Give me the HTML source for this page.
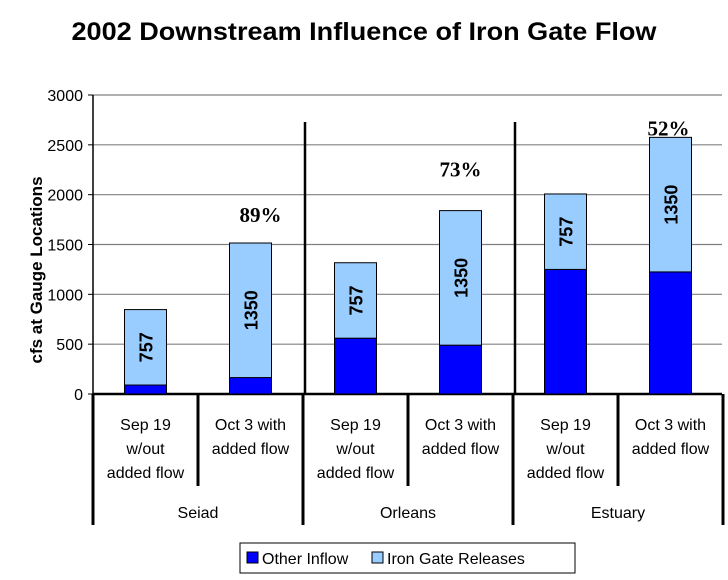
<!DOCTYPE html>
<html><head><meta charset="utf-8"><style>
body{margin:0;background:#fff;}
svg text{font-family:"Liberation Sans",Arial,sans-serif;}
svg text.serif{font-family:"Liberation Serif","Times New Roman",serif;}
</style></head><body>
<svg width="728" height="575" viewBox="0 0 728 575">
<text x="364" y="40" text-anchor="middle" font-size="25" font-weight="bold" textLength="585" lengthAdjust="spacingAndGlyphs">2002 Downstream Influence of Iron Gate Flow</text>
<text transform="translate(42,270) rotate(-90)" text-anchor="middle" font-size="17" font-weight="bold">cfs at Gauge Locations</text>
<g id="grid"></g><g id="bars"></g><g id="xaxis"></g>
<g>
<rect x="240" y="543" width="335" height="30" fill="#fff" stroke="#000" stroke-width="1"/>
<rect x="247" y="552" width="11" height="11" fill="#0000ff" stroke="#000"/>
<text x="262" y="564" font-size="16">Other Inflow</text>
<rect x="372" y="552" width="11" height="11" fill="#99ccff" stroke="#000"/>
<text x="387" y="564" font-size="16">Iron Gate Releases</text>
</g>
</svg>
<script>
const categories=["Sep 19|w/out|added flow","Oct 3 with|added  flow","Sep 19|w/out|added flow","Oct 3 with|added flow","Sep 19|w/out|added flow","Oct 3 with|added flow"];
const groups=["Seiad","Orleans","Estuary"];
const otherInflow=[90,165,560,490,1250,1225];
const ironGate=[757,1350,757,1350,757,1350];
const barLabels=["757","1350","757","1350","757","1350"];
const pctLabels=["","89%","","73%","","52%"];
const yTicks=[0,500,1000,1500,2000,2500,3000];
const NS="http://www.w3.org/2000/svg";
const X0=93,X1=723,Y0=394,Y1=95,YMAX=3000;
const cw=(X1-X0)/categories.length;
const y=v=>Y0-(v/YMAX)*(Y0-Y1);
const xc=i=>X0+cw*(i+0.5);
const pctDx=[0,10,0,0,0,-2], pctDy=[0,21,0,34,0,2];
function mk(p,t,a){const e=document.createElementNS(NS,t);for(const k in a)e.setAttribute(k,a[k]);p.appendChild(e);return e;}
const grid=document.getElementById('grid'),bars=document.getElementById('bars'),xa=document.getElementById('xaxis');
yTicks.forEach(v=>{
 const l=mk(grid,'line',{x1:X0,x2:X1-1,y1:y(v),y2:y(v),stroke:v?'#808080':'#000','stroke-width':v?1.2:2.5});
 
 
 const tk=mk(grid,'line',{x1:X0-5,x2:X0,y1:y(v),y2:y(v),stroke:'#000'});
 
 
 const t=mk(grid,'text',{x:X0-10,y:y(v)+6,'text-anchor':'end','font-size':16});
 t.textContent=v;
 
 
});
mk(grid,'line',{x1:X0,x2:X0,y1:Y1,y2:Y0,stroke:'#000','stroke-width':1.5});
[2,4].forEach(i=>{const d=mk(grid,'line',{x1:X0+cw*i+2,x2:X0+cw*i+2,y1:122,y2:Y0,stroke:'#000','stroke-width':2.5});
 
 });
const bw=42;
categories.forEach((c,i)=>{
 const x=xc(i)-bw/2,o=otherInflow[i],g=ironGate[i];
 const r1=mk(bars,'rect',{x:x,y:y(o),width:bw,height:Y0-y(o),fill:'#0000ff',stroke:'#000','stroke-width':1});
 
 
 const r2=mk(bars,'rect',{x:x,y:y(o+g),width:bw,height:y(o)-y(o+g),fill:'#99ccff',stroke:'#000','stroke-width':1});
 
 
 const cy=(y(o)+y(o+g))/2;
 const t=mk(bars,'text',{transform:`translate(${xc(i)+7},${cy}) rotate(-90)`,'text-anchor':'middle','font-size':18,'font-weight':'bold'});
 t.textContent=barLabels[i];
 
 
 if(pctLabels[i]){const p=mk(bars,'text',{x:xc(i)+pctDx[i],y:y(o+g)-pctDy[i],'text-anchor':'middle','font-size':21,'font-weight':'bold','class':'serif'});
  p.textContent=pctLabels[i];
  
  }
 const lines=c.split('|');
 lines.forEach((s,k)=>{const t2=mk(xa,'text',{x:xc(i),y:430+k*24,'text-anchor':'middle','font-size':16});
  t2.textContent=s;t2.setAttribute('xml:space','preserve');
  
  });
});
for(let i=0;i<=categories.length;i++){
 const long=i%2==0;
 const l=mk(xa,'line',{x1:X0+cw*i,x2:X0+cw*i,y1:Y0,y2:long?525:486,stroke:'#000','stroke-width':3});
 
 
}
groups.forEach((g,j)=>{const t=mk(xa,'text',{x:X0+cw*(2*j+1),y:518,'text-anchor':'middle','font-size':16});
 t.textContent=g;
 
 });
</script>
</body></html>
